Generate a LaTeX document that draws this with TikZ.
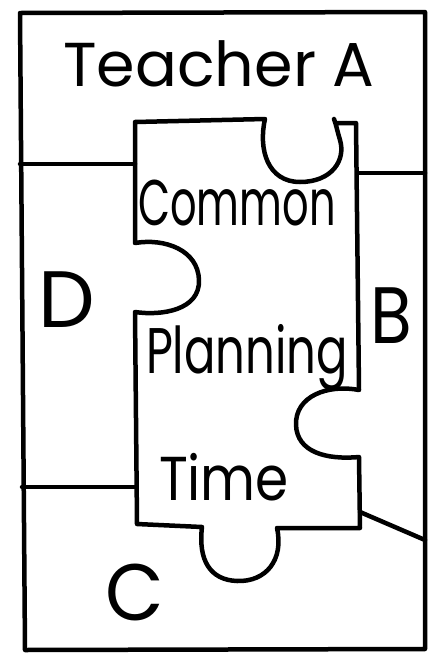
\documentclass[tikz,border=0pt]{standalone}
\usepackage{graphicx}
\usepackage{fontspec}
\setmainfont{Poppins}
\begin{document}
\begin{tikzpicture}[x=1pt,y=-1pt,
  ink/.style={line width=4.5pt,line join=round,line cap=round},
  lbl/.style={inner sep=0pt,font=\fontsize{62}{62}\selectfont},
  lbig/.style={inner sep=0pt,font=\fontsize{80}{80}\selectfont}]
\useasboundingbox (0,0) rectangle (432,654);
% outer frame
\draw[ink] (20,13) -- (425,12) -- (425,649) -- (25,650) -- cycle;
% separating lines
\draw[ink] (20,164) -- (135,164);
\draw[ink] (358,173) -- (425,173);
\draw[ink] (22,487) -- (136,487);
\draw[ink] (360,512) -- (425,540);
% central puzzle piece
\draw[ink] (135,122) -- (265,119)
  .. controls (258,150) and (268,182) .. (300,182)
  .. controls (332,182) and (346,160) .. (340,140)
  .. controls (337,130) and (336,124) .. (334,119)
  (338,123) -- (356,123) -- (359,390)
  .. controls (328,384) and (295,396) .. (296,425)
  .. controls (297,452) and (326,460) .. (359,457)
  -- (360,528) -- (277,528)
  .. controls (284,560) and (266,582) .. (237,581)
  .. controls (210,580) and (198,560) .. (202,527)
  -- (137,524) -- (135,312)
  .. controls (162,316) and (200,310) .. (199,280)
  .. controls (198,250) and (165,238) .. (135,243) -- (135,122);
% labels
\node[lbl] (teacher) at (219,64) {Teacher A};
\node[lbl,anchor=base] (common) at (237,225) {\scalebox{0.67}[1.04]{Common}};
\node[lbl,anchor=base] (planning) at (247,373) {\scalebox{0.75}[1.04]{Planning}};
\node[lbl,anchor=base] (time) at (224,500) {\scalebox{0.86}[1]{Time}};
\node[lbig] (d) at (67,300) {D};
\node[lbig] (b) at (391,316) {\scalebox{0.85}[1]{B}};
\node[lbig] (c) at (135,592) {\scalebox{0.95}[1]{C}};
\end{tikzpicture}
\end{document}
